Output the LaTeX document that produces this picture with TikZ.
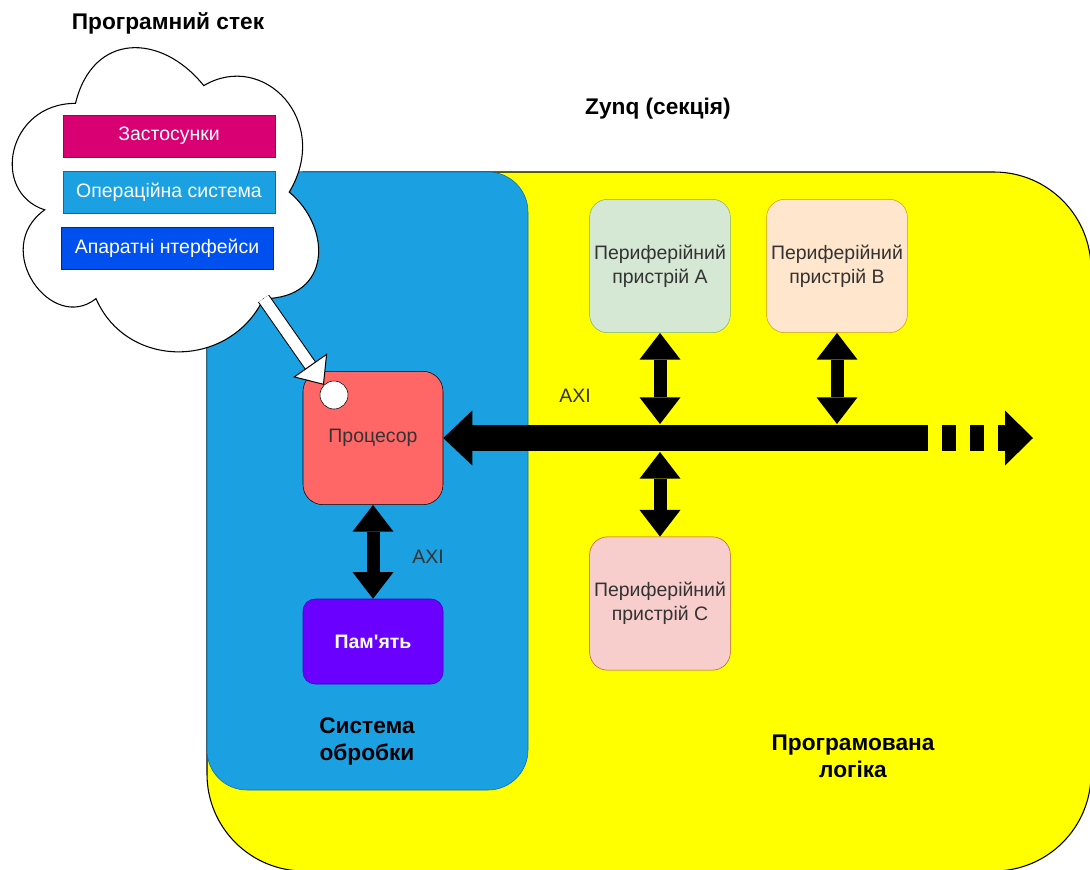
\documentclass[tikz,border=0pt]{standalone}
\usepackage{fontspec}
\setmainfont{Liberation Sans}[Ligatures=TeXOff]
\usetikzlibrary{arrows.meta}

\begin{document}
\begin{tikzpicture}[x=0.75pt, y=-0.75pt,
    every node/.style={font=\fontsize{14.6}{18}\selectfont},
    title/.style={font=\fontsize{17}{20.25}\selectfont\bfseries, align=center},
    block/.style={draw, rounded corners=13.5pt, minimum width=105pt, minimum height=100pt, align=center, text=textgray},
    stackbox/.style={draw, minimum width=159pt, minimum height=31.5pt, text=white},
    bus/.style={line width=19.5pt},
    link/.style={line width=9.75pt, {Triangle[length=20pt,width=30.75pt,line width=0pt]}-{Triangle[length=20pt,width=30.75pt,line width=0pt]}},
    stackarrow/.style={draw=black, line width=0.75pt, double=white, double distance=8.5pt, -{Triangle[length=18pt,width=31pt,line width=0.75pt,fill=white]}}]

    \xdefinecolor{plyellow}{HTML}{FFFF00}
    \xdefinecolor{psblue}{HTML}{1BA1E2}
    \xdefinecolor{psline}{HTML}{006EAF}
    \xdefinecolor{procred}{HTML}{FF6666}
    \xdefinecolor{memviolet}{HTML}{6A00FF}
    \xdefinecolor{memline}{HTML}{3700CC}
    \xdefinecolor{appsmag}{HTML}{D80073}
    \xdefinecolor{appsline}{HTML}{A50040}
    \xdefinecolor{hwblue}{HTML}{0050EF}
    \xdefinecolor{hwline}{HTML}{001DBC}
    \xdefinecolor{textgray}{HTML}{333333}

    \useasboundingbox (0,0) rectangle (1090,869);

    % Zynq section: programmable logic and processing system
    \node[draw, fill=plyellow, line width=0.8pt, rounded corners=72.75pt, minimum width=663pt, minimum height=524.25pt] (PL) at (649,521.5) {};
    \node[draw=psline, fill=psblue, rounded corners=30pt, minimum width=240.75pt, minimum height=463.5pt] (PS) at (367.5,481) {};

    \node[title] (Zynq) at (658,109) {Zynq (секція)};
    \node[title] (PSlabel) at (367,741) {Система\\обробки};
    \node[title] (PLlabel) at (853,756) {Програмована\\логіка};

    % Software stack cloud
    \node[title] (Stack) at (168,23) {Програмний стек};
    \draw[fill=white, line width=0.8pt] (75.5,103.35)
        .. controls (7.1,103.35) and (-10,192.1) .. (44.7,209.85)
        .. controls (-10,248.9) and (51.6,334.1) .. (96,298.6)
        .. controls (126.8,369.6) and (229.4,369.6) .. (263.6,298.6)
        .. controls (332,298.6) and (332,227.6) .. (289.25,192.1)
        .. controls (332,121.1) and (263.6,50.1) .. (203.75,85.6)
        .. controls (161,32.35) and (92.6,32.35) .. (75.5,103.35) -- cycle;
    \coordinate (stacktail) at (263.6,298.6);

    \node[stackbox, fill=appsmag, draw=appsline] (Apps) at (169,136) {Застосунки};
    \node[stackbox, fill=psblue, draw=psline] (OS) at (169,192) {Операційна система};
    \node[stackbox, fill=hwblue, draw=hwline] (HW) at (167,248) {Апаратні нтерфейси};

    % Processor and memory
    \node[block, fill=procred, draw=black, rounded corners=15pt] (Proc) at (373,438) {Процесор};
    \node[block, fill=memviolet, draw=memline, rounded corners=9pt, minimum height=63.75pt, text=white, font=\fontsize{14.6}{18}\selectfont\bfseries] (Mem) at (373,641.5) {Пам'ять};
    \node[circle, draw, fill=white, minimum size=21pt, inner sep=0pt] (Port) at (334,395) {};
    \draw[stackarrow] (stacktail) -- (Port.north west);

    \draw[link] (Proc) -- (Mem);
    \node[text=textgray] (AXImem) at (428,557) {AXI};

    % Peripherals
    \node[block, fill={rgb,255:red,213;green,232;blue,212}, draw={rgb,255:red,130;green,179;blue,102}] (PerA) at (660,266) {Периферійний\\пристрій A};
    \node[block, fill={rgb,255:red,255;green,230;blue,204}, draw={rgb,255:red,215;green,155;blue,0}] (PerB) at (837,266) {Периферійний\\пристрій B};
    \node[block, fill={rgb,255:red,248;green,206;blue,204}, draw={rgb,255:red,184;green,84;blue,80}] (PerC) at (660,603.5) {Периферійний\\пристрій C};

    % AXI bus
    \coordinate (busdash) at (928,438);
    \coordinate (busend) at (1033,438);
    \coordinate (busAtop) at (660,424);
    \coordinate (busAbot) at (660,452);
    \coordinate (busBtop) at (837,424);
    \draw[bus, {Triangle[length=21.75pt,width=41.25pt,line width=0pt]}-] (Proc) -- (busdash);
    \draw[bus, dash pattern=on 10.5pt off 10.5pt, dash phase=10.5pt, -{Triangle[length=21pt,width=41.25pt,line width=0pt]}] (busdash) -- (busend);
    \node[text=textgray] (AXIbus) at (575,396) {AXI};

    \draw[link] (PerA) -- (busAtop);
    \draw[link] (PerB) -- (busBtop);
    \draw[link] (busAbot) -- (PerC);
\end{tikzpicture}
\end{document}
